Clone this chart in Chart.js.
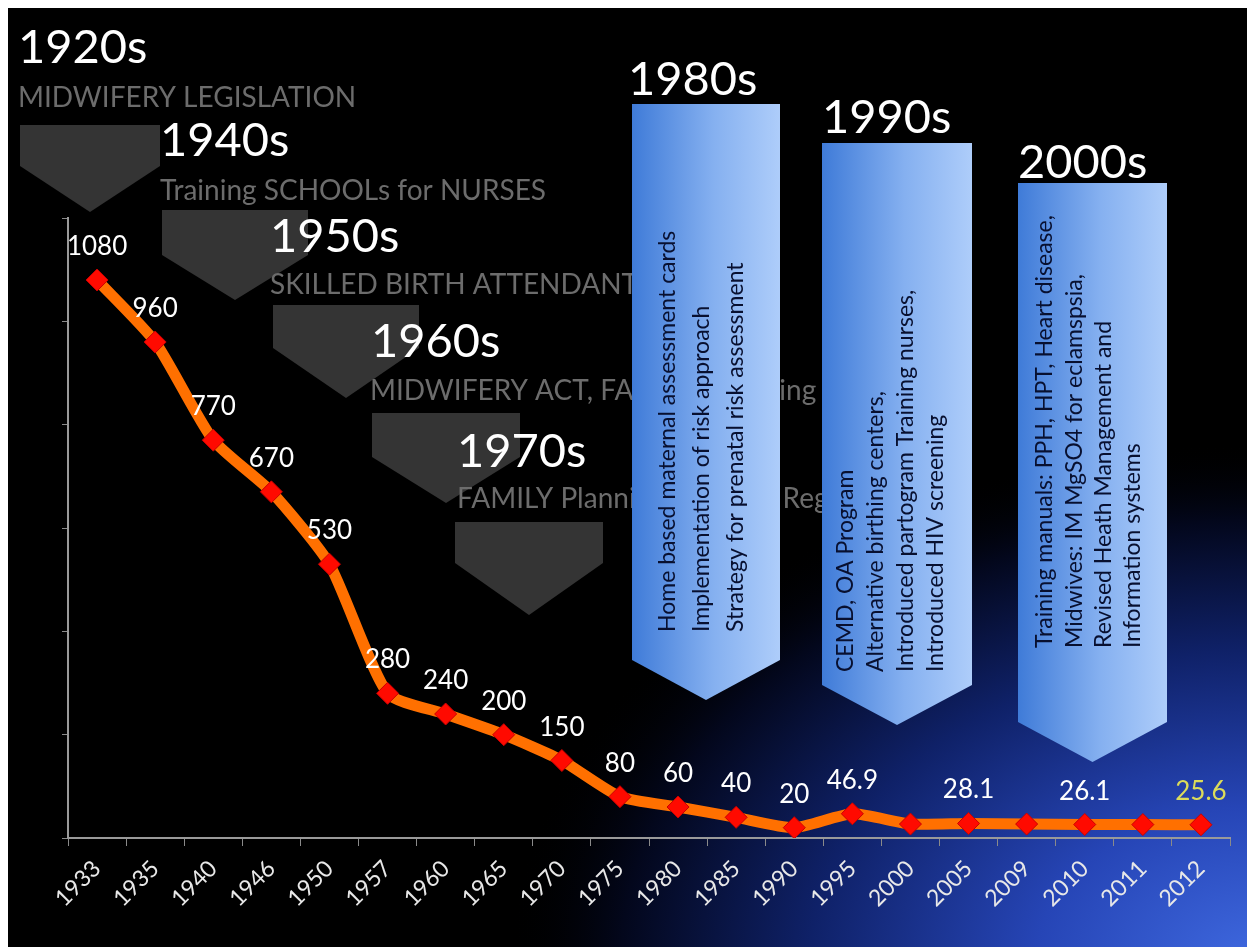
<!DOCTYPE html>
<html>
<head>
<meta charset="utf-8">
<script src="https://cdn.jsdelivr.net/npm/chart.js@4.4.1/dist/chart.umd.min.js"></script>
<style>
    html, body { margin: 0; padding: 0; background: #0d1b5a; overflow: hidden; }
    #mmr-chart { position: absolute; left: 8px; top: 8px; }
    .edge { position: absolute; background: #ffffff; z-index: 2; }
</style>
</head>
<body>
<canvas id="mmr-chart" width="1300" height="1000"></canvas>
<div class="edge" style="left:0;top:0;width:100%;height:8px"></div>
<div class="edge" style="left:0;top:0;width:8px;height:100%"></div>
<script>
const years = ['1933', '1935', '1940', '1946', '1950', '1957', '1960', '1965', '1970', '1975',
    '1980', '1985', '1990', '1995', '2000', '2005', '2009', '2010', '2011', '2012'];
const mmr = [1080, 960, 770, 670, 530, 280, 240, 200, 150, 80,
    60, 40, 20, 46.9, 27, 28.1, 27, 26.1, 26, 25.6];
// only some points carry a value label on the slide
const valueLabels = ['1080', '960', '770', '670', '530', '280', '240', '200', '150', '80',
    '60', '40', '20', '46.9', null, '28.1', null, '26.1', null, '25.6'];

const earlyDecades = ['1920s', '1940s', '1950s', '1960s', '1970s'];
const earlyNotes = ['MIDWIFERY LEGISLATION', 'Training SCHOOLs for NURSES', 'SKILLED BIRTH ATTENDANTS',
    'MIDWIFERY ACT, FAMILY  Planning', 'FAMILY Planning & Death Registration'];
const lateDecades = ['1980s', '1990s', '2000s'];
const lateNotes = [
    ['Home based maternal assessment cards', 'Implementation of risk approach', 'Strategy for prenatal risk assessment'],
    ['CEMD, OA Program', 'Alternative birthing centers,', 'Introduced partogram Training nurses,', 'Introduced HIV screening'],
    ['Training manuals: PPH, HPT, Heart disease,', 'Midwives: IM MgSO4 for eclamspsia,', 'Revised Heath Management and', 'Information systems']
];

// slide layout in page pixels
const chevrons = [
    {x: 20, w: 140, top: 125, shoulder: 166, tip: 212, head: [18, 63], note: [18, 107]},
    {x: 162, w: 146, top: 210, shoulder: 255, tip: 300, head: [160, 156], note: [160, 200]},
    {x: 273, w: 146, top: 305, shoulder: 348, tip: 398, head: [270, 252], note: [270, 294]},
    {x: 372, w: 148, top: 413, shoulder: 457, tip: 503, head: [371, 357], note: [370, 400]},
    {x: 455, w: 148, top: 522, shoulder: 563, tip: 615, head: [457, 467], note: [457, 508]}
];
const boxes = [
    {x: 632, w: 148, top: 104, shoulder: 660, tip: 700, head: [628, 95], textY: 632, lines: [668, 702, 736]},
    {x: 822, w: 150, top: 143, shoulder: 685, tip: 725, head: [822, 133], textY: 672, lines: [846, 876, 906, 936]},
    {x: 1018, w: 149, top: 183, shoulder: 722, tip: 762, head: [1018, 178], textY: 648, lines: [1045, 1075, 1104, 1133]}
];

const FONT = 'Lato, "Open Sans", sans-serif';

function pentagon(ctx, b) {
    ctx.beginPath();
    ctx.moveTo(b.x, b.top);
    ctx.lineTo(b.x + b.w, b.top);
    ctx.lineTo(b.x + b.w, b.shoulder);
    ctx.lineTo(b.x + b.w / 2, b.tip);
    ctx.lineTo(b.x, b.shoulder);
    ctx.closePath();
}

const slidePlugin = {
    id: 'slide',
    beforeDraw(chart) {
        const ctx = chart.ctx;
        ctx.save();
        ctx.translate(-8, -8);
        ctx.fillStyle = '#000';
        ctx.fillRect(0, 0, 1320, 1020);

        // blue glow in the lower right corner
        ctx.save();
        ctx.translate(1262, 962);
        ctx.scale(1.45, 1);
        const glow = ctx.createRadialGradient(0, 0, 0, 0, 0, 520);
        glow.addColorStop(0, '#3f69e0');
        glow.addColorStop(0.3, '#2645b6');
        glow.addColorStop(0.6, '#0f2168');
        glow.addColorStop(0.85, '#03071c');
        glow.addColorStop(1, 'rgba(0,0,0,0)');
        ctx.fillStyle = glow;
        ctx.fillRect(-900, -700, 1000, 800);
        ctx.restore();

        chevrons.forEach(c => {
            pentagon(ctx, c);
            ctx.fillStyle = '#343434';
            ctx.fill();
        });
        ctx.textBaseline = 'alphabetic';
        ctx.textAlign = 'left';
        chevrons.forEach((c, i) => {
            ctx.fillStyle = '#6c6c6c';
            ctx.font = '28px ' + FONT;
            ctx.fillText(earlyNotes[i], c.note[0], c.note[1]);
        });
        chevrons.forEach((c, i) => {
            ctx.fillStyle = '#ffffff';
            ctx.font = '47px ' + FONT;
            ctx.fillText(earlyDecades[i], c.head[0], c.head[1]);
        });

        boxes.forEach((b, i) => {
            const grad = ctx.createLinearGradient(b.x, 0, b.x + b.w, 0);
            grad.addColorStop(0, '#3f7bd8');
            grad.addColorStop(0.55, '#85b0f0');
            grad.addColorStop(1, '#aecdfa');
            pentagon(ctx, b);
            ctx.fillStyle = grad;
            ctx.fill();

            ctx.fillStyle = '#ffffff';
            ctx.font = '47px ' + FONT;
            ctx.textAlign = 'left';
            ctx.textBaseline = 'alphabetic';
            ctx.fillText(lateDecades[i], b.head[0], b.head[1]);

            ctx.fillStyle = '#081030';
            ctx.font = '23px ' + FONT;
            ctx.textBaseline = 'middle';
            lateNotes[i].forEach((line, j) => {
                ctx.save();
                ctx.translate(b.lines[j], b.textY);
                ctx.rotate(-Math.PI / 2);
                ctx.fillText(line, 0, 0);
                ctx.restore();
            });
        });
        ctx.restore();
    },
    afterDatasetsDraw(chart) {
        const ctx = chart.ctx;
        const meta = chart.getDatasetMeta(0);
        ctx.save();
        ctx.font = '26px ' + FONT;
        ctx.textAlign = 'center';
        ctx.textBaseline = 'alphabetic';
        meta.data.forEach((pt, i) => {
            if (!valueLabels[i]) return;
            ctx.fillStyle = i === valueLabels.length - 1 ? '#dcdc5a' : '#ffffff';
            ctx.fillText(valueLabels[i], pt.x, pt.y - 25);
        });
        ctx.restore();
    }
};

const ctx = document.getElementById('mmr-chart').getContext('2d');
new Chart(ctx, {
    type: 'line',
    data: {
        labels: years,
        datasets: [{
            data: mmr,
            borderColor: '#ff7000',
            borderWidth: 11,
            tension: 0.2,
            pointStyle: 'rectRot',
            pointRadius: 11,
            pointBackgroundColor: '#ff0a00',
            pointBorderColor: '#c80000',
            pointBorderWidth: 1
        }]
    },
    plugins: [slidePlugin],
    options: {
        animation: false,
        responsive: false,
        devicePixelRatio: 1,
        layout: {
            // chart area spans page x 68..1230, y 218..838
            padding: {top: 210, right: 78, left: 0, bottom: 0}
        },
        scales: {
            x: {
                offset: true,
                grid: {
                    drawOnChartArea: false,
                    drawTicks: true,
                    tickLength: 8,
                    color: '#8a8a8a',
                    offset: true
                },
                border: {color: '#9a9a9a', width: 2},
                ticks: {
                    color: '#e8e8e8',
                    font: {family: FONT, size: 23},
                    minRotation: 45,
                    maxRotation: 45,
                    autoSkip: false,
                    padding: 9
                },
                afterFit: scale => { scale.height = 170; }
            },
            y: {
                min: 0,
                max: 1200,
                ticks: {stepSize: 200, display: false},
                grid: {
                    drawOnChartArea: false,
                    drawTicks: true,
                    tickLength: 6,
                    color: '#8a8a8a'
                },
                border: {color: '#9a9a9a', width: 2},
                afterFit: scale => { scale.width = 60; }
            }
        },
        plugins: {
            legend: {display: false},
            tooltip: {enabled: false}
        }
    }
});
</script>
</body>
</html>
